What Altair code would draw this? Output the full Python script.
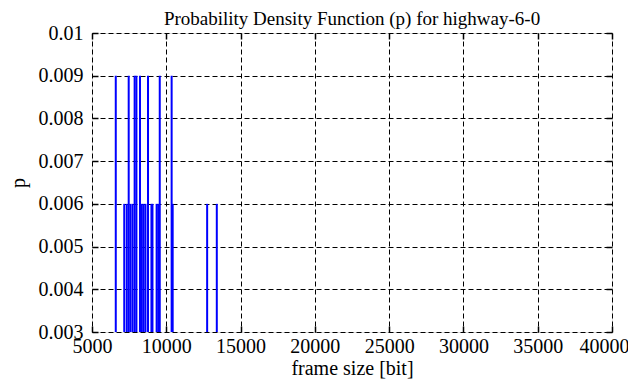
import altair as alt
import pandas as pd

# frame sizes [bit] and their probabilities
frame_size = [6600, 7470, 7870, 7990, 8230, 8770, 9560, 10360,
              7170, 7340, 7590, 7730, 8350, 8470, 8600, 9000, 9070,
              9350, 9460, 10430, 12750, 13400]
p_values = [0.009, 0.009, 0.009, 0.009, 0.009, 0.009, 0.009, 0.009,
            0.006, 0.006, 0.006, 0.006, 0.006, 0.006, 0.006, 0.006, 0.006,
            0.006, 0.006, 0.006, 0.006, 0.006]

x_ticks = [5000, 10000, 15000, 20000, 25000, 30000, 35000, 40000]
y_ticks = [0.003, 0.004, 0.005, 0.006, 0.007, 0.008, 0.009, 0.01]

df = pd.DataFrame({"size": frame_size, "p": p_values})

FONT = "Liberation Serif"
xs = alt.Scale(domain=[5000, 40000], nice=False, zero=False)
ys = alt.Scale(domain=[0.003, 0.01], nice=False, zero=False)

base = alt.Chart(df)

bars = base.mark_rule(color="#0000ff", strokeWidth=2).encode(
    x=alt.X("size:Q", scale=xs, axis=alt.Axis(
        values=x_ticks, format="d", title="frame size [bit]",
        grid=True, gridDash=[5, 3], gridColor="black", gridWidth=1, gridOpacity=1,
        ticks=False, tickSize=0, domain=False, labelPadding=4, titlePadding=2,
        labelFlush=False, labelOverlap=False,
        labelOffset=alt.expr("datum.value == 40000 ? -8 : 0"),
        labelFont=FONT, labelFontSize=20, labelColor="black",
        titleFont=FONT, titleFontSize=20, titleFontWeight="normal", titleColor="black",
        zindex=0)),
    y=alt.Y("p:Q", scale=ys, axis=alt.Axis(
        values=y_ticks, format="~g", title="p",
        grid=True, gridDash=[5, 3], gridColor="black", gridWidth=1, gridOpacity=1,
        ticks=False, tickSize=0, domain=False, labelPadding=9, titlePadding=10,
        labelFlush=False, labelOverlap=False,
        labelFont=FONT, labelFontSize=20, labelColor="black",
        titleFont=FONT, titleFontSize=20, titleFontWeight="normal", titleColor="black",
        zindex=0)),
    y2=alt.datum(0.003),
)

def tick_axis(orient):
    return alt.Axis(values=x_ticks if orient in ("top", "bottom") else y_ticks,
                    orient=orient, offset=-6, tickSize=6, ticks=True, tickColor="black",
                    tickWidth=1.5, labels=False, domain=False, grid=False, title=None,
                    zindex=1)

ticks_tb = base.mark_rule(opacity=0).encode(
    x=alt.X("size:Q", scale=xs, axis=tick_axis("top")),
    y=alt.Y("p:Q", scale=ys, axis=tick_axis("right")),
)
ticks_bl = base.mark_rule(opacity=0).encode(
    x=alt.X("size:Q", scale=xs, axis=tick_axis("bottom")),
    y=alt.Y("p:Q", scale=ys, axis=tick_axis("left")),
)

chart = alt.layer(bars, ticks_tb, ticks_bl).resolve_axis(
    x="independent", y="independent"
).properties(
    width=520, height=299,
    autosize=alt.AutoSizeParams(type="none"),
    padding={"left": 84, "top": 25, "right": 16, "bottom": 47},
    title=alt.TitleParams("Probability Density Function (p) for highway-6-0",
                          font=FONT, fontSize=19, fontWeight="normal", color="black",
                          anchor="middle", frame="group", offset=-6),
).configure_view(stroke="black", strokeWidth=1.5).configure(background="white")

chart.save("out.html", embed_options={"renderer": "svg", "actions": False})
